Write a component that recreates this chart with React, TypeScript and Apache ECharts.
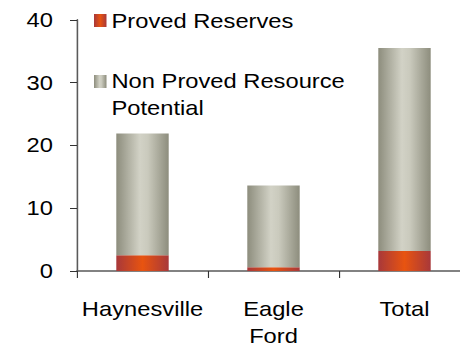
import React, { useEffect, useRef } from "react";
import * as echarts from "echarts";

const categories = ["Haynesville", "Eagle\nFord", "Total"];
const provedReserves = [2.5, 0.6, 3.2];
const nonProvedPotential = [19.4, 13.0, 32.3];
const yTicks = [0, 10, 20, 30, 40];

const FONT = "Liberation Sans, Arial, sans-serif";
const FONT_SIZE = 21;
// The chart is drawn in a narrower box and widened horizontally by this factor.
const STRETCH = 1.13;
const sx = (v: number) => v / STRETCH;
// The category axis runs past the right edge of the visible area.
const CANVAS_W = 490;

const grayFill = new echarts.graphic.LinearGradient(0, 0, 1, 0, [
  { offset: 0, color: "#8d8d7d" },
  { offset: 0.45, color: "#d2d2c6" },
  { offset: 0.6, color: "#cacabd" },
  { offset: 1, color: "#8d8d7d" },
]);
const orangeFill = new echarts.graphic.LinearGradient(0, 0, 1, 0, [
  { offset: 0, color: "#a8383a" },
  { offset: 0.5, color: "#e85410" },
  { offset: 1, color: "#a8383a" },
]);

export default function App() {
  const ref = useRef<HTMLDivElement>(null);

  useEffect(() => {
    if (!ref.current) return;
    const chart = echarts.init(ref.current, null, { renderer: "svg" });
    chart.setOption({
      animation: false,
      grid: { left: sx(77), top: 19.8, bottom: 74.4, width: sx(393) },
      xAxis: {
        type: "category",
        data: categories,
        axisLine: { lineStyle: { color: "#5a5a5a", width: 1.5 } },
        axisTick: { show: true, length: 7, lineStyle: { color: "#333" } },
        axisLabel: {
          color: "#000",
          fontSize: FONT_SIZE,
          fontFamily: FONT,
          margin: 24,
          lineHeight: 27,
          interval: 0,
        },
      },
      yAxis: {
        type: "value",
        min: yTicks[0],
        max: yTicks[yTicks.length - 1],
        interval: 10,
        axisLine: { show: true, lineStyle: { color: "#5a5a5a", width: 1.4 } },
        axisTick: { show: true, length: sx(7), lineStyle: { color: "#333" } },
        splitLine: { show: false },
        axisLabel: {
          color: "#000",
          fontSize: FONT_SIZE,
          fontFamily: FONT,
          margin: sx(24),
        },
      },
      series: [
        {
          name: "Proved Reserves",
          type: "bar",
          stack: "total",
          barWidth: "40%",
          data: provedReserves,
          itemStyle: { color: orangeFill },
        },
        {
          name: "Non Proved Resource Potential",
          type: "bar",
          stack: "total",
          data: nonProvedPotential,
          itemStyle: { color: grayFill },
        },
      ],
      graphic: [
        {
          type: "rect",
          shape: { x: sx(94), y: 14, width: sx(12.5), height: 13 },
          style: { fill: orangeFill },
        },
        {
          type: "text",
          x: sx(111.5),
          y: 20.5,
          style: {
            text: "Proved Reserves",
            fontSize: FONT_SIZE,
            fontFamily: FONT,
            fill: "#000",
            verticalAlign: "middle",
          },
        },
        {
          type: "rect",
          shape: { x: sx(94), y: 75, width: sx(12.5), height: 13 },
          style: { fill: grayFill },
        },
        {
          type: "text",
          x: sx(111.5),
          y: 67,
          style: {
            text: "Non Proved Resource\nPotential",
            fontSize: FONT_SIZE,
            lineHeight: 27,
            fontFamily: FONT,
            fill: "#000",
            verticalAlign: "top",
          },
        },
      ],
    });
    return () => chart.dispose();
  }, []);

  return (
    <div
      style={{
        position: "absolute",
        left: 0,
        top: 0,
        width: 460,
        height: 349,
        overflow: "hidden",
      }}
    >
      <div
        ref={ref}
        style={{
          width: sx(CANVAS_W),
          height: 349,
          transform: `scaleX(${STRETCH})`,
          transformOrigin: "0 0",
        }}
      />
    </div>
  );
}
